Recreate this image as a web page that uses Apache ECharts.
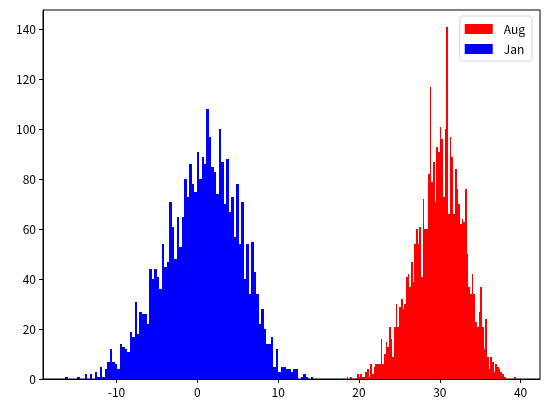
<!DOCTYPE html>
<html>
<head>
<meta charset="utf-8">
<script src="https://cdn.jsdelivr.net/npm/echarts@6/dist/echarts.min.js"></script>
<style>
  html, body { margin: 0; padding: 0; background: #fff; }
  #main { width: 548px; height: 412px; }
</style>
</head>
<body>
<div id="main"></div>
<script>
// histogram bins: first edge + bin width, then counts per bin
var janStart = -16.37;
var janWidth = 0.307;
var janCounts = [
  1, 0, 0, 0, 0, 1, 0, 0, 2, 0,
  2, 0, 3, 1, 5, 1, 4, 7, 12, 7,
  6, 4, 14, 13, 12, 11, 19, 17, 31, 18,
  27, 26, 26, 22, 44, 40, 44, 41, 36, 54,
  45, 47, 71, 61, 48, 65, 53, 65, 80, 73,
  86, 78, 75, 91, 80, 89, 86, 108, 97, 85,
  83, 74, 100, 87, 70, 88, 67, 73, 57, 78,
  54, 71, 40, 54, 34, 55, 43, 34, 22, 28,
  20, 14, 14, 17, 5, 12, 3, 5, 5, 4,
  4, 3, 4, 4, 0, 1, 2, 1, 0, 1
];

var augStart = 18.49;
var augWidth = 0.209;
var augCounts = [
  1, 0, 1, 0, 0, 0, 2, 1, 2, 1,
  1, 3, 4, 1, 6, 2, 5, 6, 6, 6,
  16, 6, 10, 15, 13, 21, 16, 9, 21, 30,
  21, 29, 32, 28, 30, 41, 42, 37, 47, 39,
  54, 60, 54, 61, 41, 72, 60, 60, 82, 117,
  79, 87, 71, 93, 91, 101, 96, 73, 100, 141,
  66, 97, 89, 66, 84, 76, 70, 62, 64, 63,
  76, 50, 37, 34, 42, 34, 23, 21, 27, 37,
  21, 12, 24, 9, 4, 9, 7, 3, 6, 5,
  4, 3, 2, 1, 0, 0, 0, 0, 0, 1
];

var xTicks = [-10, 0, 10, 20, 30, 40];
var yTicks = [0, 20, 40, 60, 80, 100, 120, 140];

// [left edge, right edge, count]
function toBins(start, width, counts) {
  return counts.map(function (c, i) {
    return [start + i * width, start + (i + 1) * width, c];
  });
}

// edges snapped to whole pixels so neighbouring bars meet without seams
function renderBar(params, api) {
  var p0 = api.coord([api.value(0), 0]);
  var p1 = api.coord([api.value(1), api.value(2)]);
  var x0 = Math.round(p0[0]);
  var x1 = Math.round(p1[0]);
  var yb = Math.round(p0[1]);
  var yt = Math.round(p1[1]);
  if (yb - yt <= 0 || x1 - x0 <= 0) return null;
  return {
    type: 'rect',
    shape: { x: x0, y: yt, width: x1 - x0, height: yb - yt },
    style: { fill: api.visual('color') }
  };
}

var font = "'Noto Sans CJK KR', 'DejaVu Sans', sans-serif";
var chart = echarts.init(document.getElementById('main'));

var option = {
  animation: false,
  backgroundColor: '#fff',
  grid: {
    left: 43,
    right: 8,
    top: 10,
    bottom: 33,
    show: true,
    borderColor: '#000',
    borderWidth: 1,
    backgroundColor: 'transparent'
  },
  legend: {
    orient: 'vertical',
    right: 16,
    top: 16,
    data: ['Aug', 'Jan'],
    icon: 'rect',
    itemWidth: 28,
    itemHeight: 10,
    itemGap: 6,
    padding: [6, 7, 5, 5],
    backgroundColor: 'rgba(255,255,255,0.8)',
    borderColor: '#d5d5d5',
    borderWidth: 1,
    borderRadius: 3,
    textStyle: {
      color: '#000',
      fontSize: 12,
      fontFamily: font,
      lineHeight: 14,
      padding: [0, 0, 0, 6]
    }
  },
  xAxis: {
    type: 'value',
    min: -19.1,
    max: 42.4,
    splitLine: { show: false },
    axisLine: { show: true, onZero: false, lineStyle: { color: '#000', width: 1 } },
    axisTick: { show: true, length: 4, customValues: xTicks, lineStyle: { color: '#000' } },
    axisLabel: {
      customValues: xTicks,
      color: '#000',
      fontSize: 12,
      fontFamily: font,
      margin: 7
    }
  },
  yAxis: {
    type: 'value',
    min: 0,
    max: 147.6,
    splitLine: { show: false },
    axisLine: { show: true, onZero: false, lineStyle: { color: '#000', width: 1 } },
    axisTick: { show: true, length: 4, customValues: yTicks, lineStyle: { color: '#000' } },
    axisLabel: {
      customValues: yTicks,
      color: '#000',
      fontSize: 12,
      fontFamily: font,
      margin: 7
    }
  },
  series: [
    {
      name: 'Aug',
      type: 'custom',
      renderItem: renderBar,
      itemStyle: { color: '#ff0000' },
      encode: { x: [0, 1], y: 2 },
      data: toBins(augStart, augWidth, augCounts)
    },
    {
      name: 'Jan',
      type: 'custom',
      renderItem: renderBar,
      itemStyle: { color: '#0000ff' },
      encode: { x: [0, 1], y: 2 },
      data: toBins(janStart, janWidth, janCounts)
    }
  ]
};
chart.setOption(option);
</script>
</body>
</html>
